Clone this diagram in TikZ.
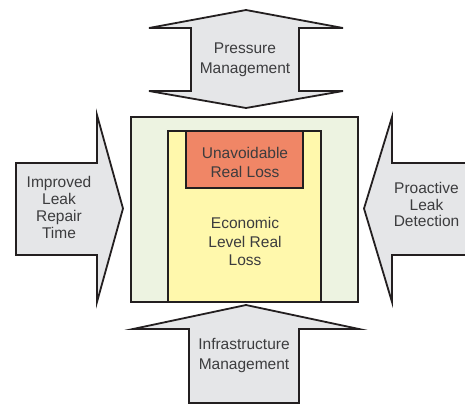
\documentclass[tikz,border=0pt]{standalone}
\usepackage{fontspec}
\setmainfont{Liberation Sans}
\definecolor{edge}{RGB}{35,31,32}
\definecolor{txt}{RGB}{60,60,62}
\definecolor{arrowfill}{RGB}{229,230,232}
\definecolor{outerfill}{RGB}{237,243,225}
\definecolor{econfill}{RGB}{255,248,172}
\definecolor{unavfill}{RGB}{240,134,102}
\tikzset{
  outline/.style={draw=edge, line width=1.8pt, line join=miter},
  arrowshape/.style={outline, fill=arrowfill},
  label/.style={text=txt, align=center, inner sep=0pt,
    font=\fontsize{15.5}{#1}\selectfont},
  label/.default=19
}
\begin{document}
\begin{tikzpicture}[x=1pt,y=-1pt]
\useasboundingbox (0,0) rectangle (465,405);

% central loss boxes
\draw[outline, fill=outerfill] (131,117) rectangle (358,302);
\draw[outline, fill=econfill] (168,131) rectangle (321,302);
\draw[outline, fill=unavfill] (186,131) rectangle (303,188);
\node[label] (unav) at (245,162) {Unavoidable\\Real Loss};
\node[label=18.5] (econ) at (245,241.5) {Economic\\Level Real\\Loss};

% pressure management: double-headed vertical arrow
\draw[arrowshape] (191,28) -- (149,28) -- (246,10) -- (343,28) -- (299,28)
  -- (299,91) -- (343,91) -- (246,108) -- (149,91) -- (191,91) -- cycle;
\node[label=20] (press) at (245,60) {Pressure\\Management};

% improved leak repair time: arrow pointing right
\draw[arrowshape] (16,163) -- (97,163) -- (97,115) -- (123,208.5)
  -- (97,302) -- (97,255) -- (16,255) -- cycle;
\node[label=17.3] (repair) at (59,207.5) {Improved\\Leak\\Repair\\Time};

% proactive leak detection: arrow pointing left, shaft running off the edge
\fill[arrowfill] (466,163) -- (392,163) -- (392,117) -- (364,208.5)
  -- (392,302) -- (392,255) -- (466,255) -- cycle;
\draw[outline] (466,163) -- (392,163) -- (392,117) -- (364,208.5)
  -- (392,302) -- (392,255) -- (466,255);
\node[label=16.7] (detect) at (426.5,204.5) {Proactive\\Leak\\Detection};

% infrastructure management: arrow pointing up
\draw[arrowshape] (189,403) -- (189,329) -- (133,329) -- (246,305)
  -- (359,329) -- (299,329) -- (299,403) -- cycle;
\node[label=20] (infra) at (244,355.5) {Infrastructure\\Management};
\end{tikzpicture}
\end{document}
